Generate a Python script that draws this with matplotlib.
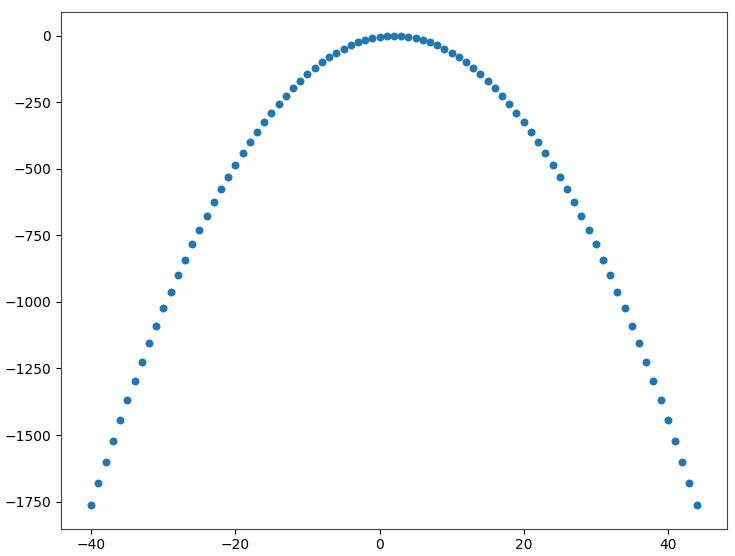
import matplotlib
matplotlib.use("Agg")
import matplotlib.pyplot as plt

x_values = list(range(-40, 45))
y_values = [
    -1764, -1681, -1600, -1521, -1444, -1369, -1296, -1225, -1156, -1089,
    -1024, -961, -900, -841, -784, -729, -676, -625, -576, -529,
    -484, -441, -400, -361, -324, -289, -256, -225, -196, -169,
    -144, -121, -100, -81, -64, -49, -36, -25, -16, -9,
    -4, -1, 0, -1, -4, -9, -16, -25, -36, -49,
    -64, -81, -100, -121, -144, -169, -196, -225, -256, -289,
    -324, -361, -400, -441, -484, -529, -576, -625, -676, -729,
    -784, -841, -900, -961, -1024, -1089, -1156, -1225, -1296, -1369,
    -1444, -1521, -1600, -1681, -1764,
]

fig = plt.figure(figsize=(7.35, 5.56), dpi=100)
ax = fig.add_axes([0.083, 0.049, 0.906, 0.929])
ax.scatter(x_values, y_values, s=22, color="#1f77b4")
ax.set_xticks([-40, -20, 0, 20, 40])
ax.set_yticks([0, -250, -500, -750, -1000, -1250, -1500, -1750])
for sp in ax.spines.values():
    sp.set_color("#444444")
fig.savefig("out.png", dpi=100)
